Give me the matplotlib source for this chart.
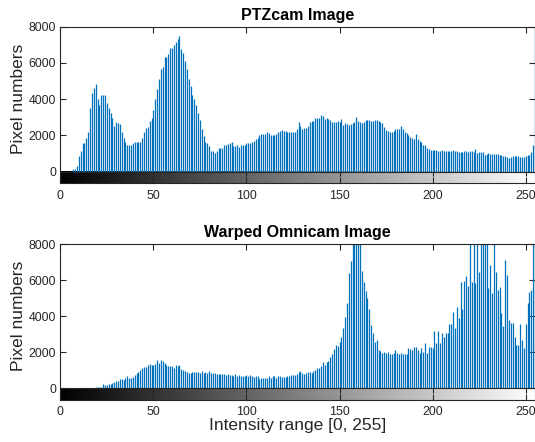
import numpy as np
import matplotlib
matplotlib.use("Agg")
import matplotlib.pyplot as plt

# intensity histograms (256 bins)
intensity = list(range(256))

ptz_counts = [
    0, 0, 0, 0, 0, 0, 0, 150, 150, 300, 850, 1150, 1550, 1550, 1850, 2200,
    3500, 4350, 4600, 4850, 4000, 3700, 4250, 4200, 4200, 3800, 3500, 3250, 2950, 2500, 2750, 2700,
    2600, 2200, 1850, 1650, 1450, 1450, 1450, 1550, 1650, 1650, 1650, 1650, 1850, 2200, 2400, 2450,
    2800, 2950, 3400, 4000, 4550, 5100, 5650, 5800, 6300, 6350, 6500, 6850, 6850, 7000, 7150, 7300,
    7500, 6750, 6550, 6100, 5650, 5100, 4700, 4250, 4000, 3700, 3250, 2850, 2350, 1950, 1620, 1550,
    1430, 1120, 1120, 1030, 1160, 1300, 1320, 1320, 1470, 1470, 1530, 1580, 1620, 1400, 1400, 1470,
    1360, 1470, 1470, 1470, 1550, 1580, 1580, 1620, 1670, 1770, 1860, 2040, 2100, 2100, 2080, 2170,
    2130, 2040, 2040, 2040, 2100, 2170, 2230, 2320, 2260, 2260, 2210, 2170, 2170, 2170, 2210, 2350,
    2740, 2500, 2370, 2410, 2410, 2540, 2740, 2780, 2780, 2940, 2960, 2940, 3150, 3050, 2900, 2980,
    2900, 2830, 2720, 2720, 2760, 2780, 2740, 2900, 2580, 2690, 2630, 2580, 2630, 2690, 2720, 3020,
    2780, 2720, 2690, 2720, 2820, 2820, 2870, 2780, 2780, 2830, 2830, 2780, 2720, 2690, 2470, 2320,
    2260, 2210, 2210, 2260, 2370, 2370, 2370, 2500, 2370, 2170, 2130, 2020, 1900, 1860, 1820, 2080,
    1770, 1670, 1620, 1490, 1450, 1310, 1230, 1210, 1210, 1210, 1180, 1160, 1160, 1180, 1160, 1160,
    1120, 1160, 1160, 1180, 1160, 1120, 1070, 1070, 1090, 1120, 1120, 1100, 1120, 1120, 1070, 1250,
    1030, 1070, 1070, 1070, 940, 990, 1010, 990, 980, 980, 960, 960, 940, 900, 880, 850,
    790, 740, 810, 850, 850, 860, 850, 810, 830, 830, 860, 900, 940, 1070, 1490, 9000,
]

omni_counts = [
    0, 0, 0, 0, 0, 0, 0, 0, 0, 0, 0, 0, 0, 0, 0, 0,
    0, 30, 40, 50, 60, 90, 90, 220, 185, 185, 240, 260, 280, 330, 410, 410,
    500, 520, 460, 555, 700, 555, 590, 650, 740, 830, 925, 1020, 1110, 1180, 1200, 1300,
    1330, 1300, 1300, 1330, 1550, 1390, 1550, 1520, 1390, 1300, 1260, 1260, 1240, 1150, 1300, 1260,
    1300, 1070, 1000, 980, 890, 870, 870, 925, 925, 890, 925, 870, 980, 870, 925, 850,
    980, 850, 850, 850, 815, 815, 780, 780, 780, 740, 780, 740, 740, 700, 780, 670,
    740, 700, 700, 700, 720, 685, 740, 700, 630, 670, 670, 520, 555, 590, 555, 590,
    670, 590, 700, 670, 590, 700, 670, 630, 630, 630, 700, 700, 740, 740, 740, 780,
    925, 960, 830, 780, 830, 925, 925, 870, 960, 1020, 1150, 1150, 1260, 1480, 1300, 1440,
    1520, 1760, 1890, 2180, 2400, 2370, 2590, 2850, 3330, 3980, 4720, 6380, 7070, 9000, 9500, 9500,
    9500, 9000, 6500, 5900, 5400, 5000, 4400, 3500, 3100, 2600, 2700, 2130, 2070, 1940, 2000, 1940,
    2040, 1920, 1900, 1940, 2130, 1940, 1920, 1940, 1890, 1920, 1890, 2260, 2170, 2130, 2310, 2310,
    2130, 1940, 2260, 2040, 2530, 1980, 2310, 2310, 2220, 3200, 2500, 3180, 2500, 3090, 2870, 3050,
    3090, 3550, 3570, 4220, 3370, 4530, 3890, 5880, 4380, 5980, 6250, 5680, 9000, 5920, 9000, 5830,
    9000, 6440, 9000, 9000, 9000, 9000, 5550, 6850, 5270, 9000, 6480, 5460, 5640, 4160, 3480, 7120,
    6290, 3790, 3610, 3610, 2870, 2400, 2400, 3550, 2680, 2260, 3550, 4720, 5370, 5460, 9000, 9000,
]

titles = ["PTZcam Image", "Warped Omnicam Image"]
x_ticks = [0, 50, 100, 150, 200, 250]
y_ticks = [0, 2000, 4000, 6000, 8000]

STEM_COLOR = "#0072BD"
AX_COLOR = "#262626"
Y_BOTTOM = -650
Y_TOP = 8000

plt.rcParams["font.family"] = ["Liberation Sans", "DejaVu Sans"]


def draw_hist(ax, counts, title, show_xlabel=False):
    ax.vlines(intensity, 0, counts, colors=STEM_COLOR, linewidth=0.9)

    # grayscale strip under the histogram, like imhist's colorbar
    strip = np.arange(256)[None, :]
    ax.imshow(strip, cmap="gray", vmin=0, vmax=255, aspect="auto",
              extent=(-0.5, 255.5, Y_BOTTOM, 0), zorder=0.5)
    ax.axhline(0, color=AX_COLOR, linewidth=0.8, zorder=3)
    ax.vlines(x_ticks, -270, 0, colors=AX_COLOR, linewidth=0.8, zorder=3)

    ax.set_xlim(0, 255)
    ax.set_ylim(Y_BOTTOM, Y_TOP)
    ax.set_xticks(x_ticks)
    ax.set_yticks(y_ticks)
    ax.tick_params(direction="in", length=4, width=0.8, colors=AX_COLOR,
                   labelsize=8.9, top=True, right=True, labelcolor=AX_COLOR)
    ax.tick_params(axis="x", pad=4.5)
    ax.tick_params(axis="y", pad=3)
    for sp in ax.spines.values():
        sp.set_color(AX_COLOR)
        sp.set_linewidth(0.8)

    ax.set_title(title, fontsize=11.5, fontweight="bold", pad=5)
    ax.set_ylabel("Pixel numbers", fontsize=12.5, color=AX_COLOR)
    ax.yaxis.set_label_coords(-0.072, (4000 - Y_BOTTOM) / (Y_TOP - Y_BOTTOM))
    if show_xlabel:
        ax.set_xlabel("Intensity range [0, 255]", fontsize=12.5, color=AX_COLOR, labelpad=0)


def main():
    fig = plt.figure(figsize=(5.35, 4.42), dpi=100)
    ax_top = fig.add_axes([0.1127, 0.5853, 0.8873, 0.3543])
    ax_bot = fig.add_axes([0.1127, 0.0950, 0.8873, 0.3523])

    draw_hist(ax_top, ptz_counts, titles[0])
    draw_hist(ax_bot, omni_counts, titles[1], show_xlabel=True)

    fig.savefig("out.png", dpi=100)


if __name__ == "__main__":
    main()
